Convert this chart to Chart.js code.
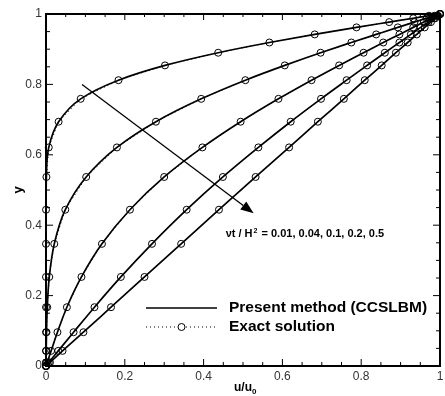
<!DOCTYPE html>
<html>
<head>
<meta charset="utf-8">
<script src="https://cdn.jsdelivr.net/npm/chart.js@4.4.1/dist/chart.umd.min.js"></script>
<style>
  html, body { margin: 0; padding: 0; background: #fff; }
</style>
</head>
<body>
<canvas id="profileChart" width="445" height="396"></canvas>
<script>
// y positions of the mesh nodes (same for every profile)
const yNodes = [0, 0.01, 0.043, 0.096, 0.167, 0.253, 0.347, 0.444, 0.537, 0.621, 0.694,
                0.759, 0.812, 0.854, 0.890, 0.919, 0.942, 0.962, 0.977, 0.988, 0.995, 1];

// u/u0, one list per time
const u001 = [0, 0, 0, 0, 0, 0, 0, 0.0001, 0.001, 0.007, 0.032,
              0.088, 0.184, 0.302, 0.437, 0.567, 0.682, 0.788, 0.871, 0.932, 0.972, 1];
const u004 = [0, 0.0001, 0.0005, 0.0013, 0.0032, 0.0083, 0.021, 0.049, 0.102, 0.180, 0.279,
              0.394, 0.506, 0.606, 0.697, 0.775, 0.838, 0.893, 0.935, 0.966, 0.986, 1];
const u01 = [0, 0.003, 0.013, 0.029, 0.053, 0.090, 0.142, 0.213, 0.300, 0.397, 0.494,
             0.590, 0.674, 0.744, 0.806, 0.856, 0.897, 0.932, 0.959, 0.979, 0.991, 1];
const u02 = [0, 0.007, 0.031, 0.070, 0.123, 0.190, 0.269, 0.357, 0.449, 0.539, 0.621,
             0.698, 0.763, 0.815, 0.860, 0.897, 0.926, 0.951, 0.971, 0.985, 0.994, 1];
const u05 = [0, 0.010, 0.042, 0.095, 0.165, 0.250, 0.343, 0.439, 0.532, 0.617, 0.690,
             0.756, 0.809, 0.852, 0.888, 0.918, 0.941, 0.961, 0.977, 0.988, 0.995, 1];

const times = ['0.01', '0.04', '0.1', '0.2', '0.5'];
const profiles = [u001, u004, u01, u02, u05];
const tickLabels = [0, 0.2, 0.4, 0.6, 0.8, 1];

// arrow through the profiles, in data units
const arrowFrom = [0.0914, 0.80];
const arrowTo = [0.527, 0.434];
const noteAt = [0.456, 0.375];

const toPoints = xs => xs.map((x, i) => ({ x: x, y: yNodes[i] }));

const datasets = [];
profiles.forEach((xs, k) => {
    datasets.push({
        label: 'Exact solution ' + times[k],
        data: toPoints(xs),
        borderColor: '#000',
        borderWidth: 1,
        borderDash: [1, 3],
        pointRadius: 3.5,
        pointBorderWidth: 1,
        pointBorderColor: '#000',
        pointBackgroundColor: 'rgba(0,0,0,0)',
        order: 2,
        clip: false
    });
    datasets.push({
        label: 'Present method ' + times[k],
        data: toPoints(xs),
        borderColor: '#000',
        borderWidth: 1.7,
        pointRadius: 0,
        cubicInterpolationMode: 'monotone',
        order: 1,
        clip: false
    });
});

function drawParts(ctx, parts, x, y) {
    parts.forEach(p => {
        ctx.font = 'bold ' + p.size + 'px "Liberation Sans", Arial, sans-serif';
        ctx.fillText(p.t, x, y + (p.dy || 0));
        x += ctx.measureText(p.t).width + (p.gap || 0);
    });
}

const decorPlugin = {
    id: 'decor',
    beforeDatasetsDraw(chart) {
        const { ctx, chartArea: a, scales: { x, y } } = chart;
        ctx.save();
        ctx.strokeStyle = '#000';
        ctx.lineWidth = 1;
        ctx.beginPath();
        for (let i = 0; i <= 20; i++) {
            const v = i / 20;
            const len = i % 4 === 0 ? 7 : 4;
            const px = x.getPixelForValue(v), py = y.getPixelForValue(v);
            ctx.moveTo(px, a.bottom); ctx.lineTo(px, a.bottom - len);
            ctx.moveTo(px, a.top); ctx.lineTo(px, a.top + len - 1);
            ctx.moveTo(a.left, py); ctx.lineTo(a.left + len, py);
            ctx.moveTo(a.right, py); ctx.lineTo(a.right - len, py);
        }
        ctx.stroke();
        ctx.lineWidth = 2;
        ctx.strokeRect(a.left, a.top, a.right - a.left, a.bottom - a.top);
        ctx.restore();
    },
    afterDraw(chart) {
        const { ctx, chartArea: a, scales: { x, y } } = chart;
        ctx.save();
        ctx.fillStyle = '#000';
        ctx.strokeStyle = '#000';

        // arrow
        const x0 = x.getPixelForValue(arrowFrom[0]), y0 = y.getPixelForValue(arrowFrom[1]);
        const x1 = x.getPixelForValue(arrowTo[0]), y1 = y.getPixelForValue(arrowTo[1]);
        const ang = Math.atan2(y1 - y0, x1 - x0);
        const hl = 13, hw = 5;
        const bx = x1 - hl * Math.cos(ang), by = y1 - hl * Math.sin(ang);
        ctx.lineWidth = 1.3;
        ctx.beginPath();
        ctx.moveTo(x0, y0);
        ctx.lineTo(bx, by);
        ctx.stroke();
        ctx.beginPath();
        ctx.moveTo(x1, y1);
        ctx.lineTo(bx + hw * Math.sin(ang), by - hw * Math.cos(ang));
        ctx.lineTo(bx - hw * Math.sin(ang), by + hw * Math.cos(ang));
        ctx.closePath();
        ctx.fill();

        // note
        ctx.textBaseline = 'middle';
        ctx.textAlign = 'left';
        drawParts(ctx, [
            { t: '\u03bdt / H', size: 11, gap: 1 },
            { t: '2', size: 7, dy: -3, gap: 1 },
            { t: ' = ' + times.join(', '), size: 11 }
        ], x.getPixelForValue(noteAt[0]), y.getPixelForValue(noteAt[1]));

        // legend
        const lx = 146, lw = 71, tx = 229, r1 = 308, r2 = 327;
        ctx.lineWidth = 1.7;
        ctx.beginPath();
        ctx.moveTo(lx, r1); ctx.lineTo(lx + lw, r1);
        ctx.stroke();
        ctx.lineWidth = 1;
        ctx.setLineDash([1, 3]);
        ctx.beginPath();
        ctx.moveTo(lx, r2); ctx.lineTo(lx + lw, r2);
        ctx.stroke();
        ctx.setLineDash([]);
        ctx.fillStyle = '#fff';
        ctx.beginPath();
        ctx.arc(lx + lw / 2, r2, 3.5, 0, Math.PI * 2);
        ctx.fill();
        ctx.stroke();
        ctx.fillStyle = '#000';
        drawParts(ctx, [{ t: 'Present method (CCSLBM)', size: 15.5 }], tx, r1);
        drawParts(ctx, [{ t: 'Exact solution', size: 15.5 }], tx, r2);

        // axis titles
        ctx.textBaseline = 'alphabetic';
        ctx.font = 'bold 12px "Liberation Sans", Arial, sans-serif';
        const w1 = ctx.measureText('u/u').width;
        drawParts(ctx, [
            { t: 'u/u', size: 12 },
            { t: '0', size: 8, dy: 3 }
        ], 245 - (w1 + 4) / 2, 391);

        ctx.translate(22, (a.top + a.bottom) / 2);
        ctx.rotate(-Math.PI / 2);
        ctx.textAlign = 'center';
        ctx.font = 'bold 13px "Liberation Sans", Arial, sans-serif';
        ctx.fillText('y', 0, 0);
        ctx.restore();
    }
};

const tickFont = { family: '"Liberation Sans", Arial, sans-serif', size: 12 };
const fmt = v => String(Math.round(v * 10) / 10);

new Chart(document.getElementById('profileChart'), {
    type: 'line',
    data: { datasets: datasets },
    options: {
        responsive: false,
        animation: false,
        indexAxis: 'y',
        layout: { padding: { top: 14, right: 2, left: 0, bottom: 0 } },
        plugins: { legend: { display: false }, tooltip: { enabled: false } },
        scales: {
            x: {
                type: 'linear', min: 0, max: 1,
                grid: { display: false, drawTicks: false },
                border: { display: false },
                afterBuildTicks: s => { s.ticks = tickLabels.map(v => ({ value: v })); },
                afterFit: s => { s.height = 30; s.paddingRight = 0; s.paddingLeft = 0; },
                ticks: { color: '#333', font: tickFont, padding: 3, maxRotation: 0, callback: fmt }
            },
            y: {
                type: 'linear', min: 0, max: 1,
                grid: { display: false, drawTicks: false },
                border: { display: false },
                afterBuildTicks: s => { s.ticks = tickLabels.map(v => ({ value: v })); },
                afterFit: s => { s.width = 46; s.paddingTop = 0; s.paddingBottom = 0; },
                ticks: { color: '#333', font: tickFont, padding: 4, callback: fmt }
            }
        }
    },
    plugins: [decorPlugin]
});
</script>
</body>
</html>
